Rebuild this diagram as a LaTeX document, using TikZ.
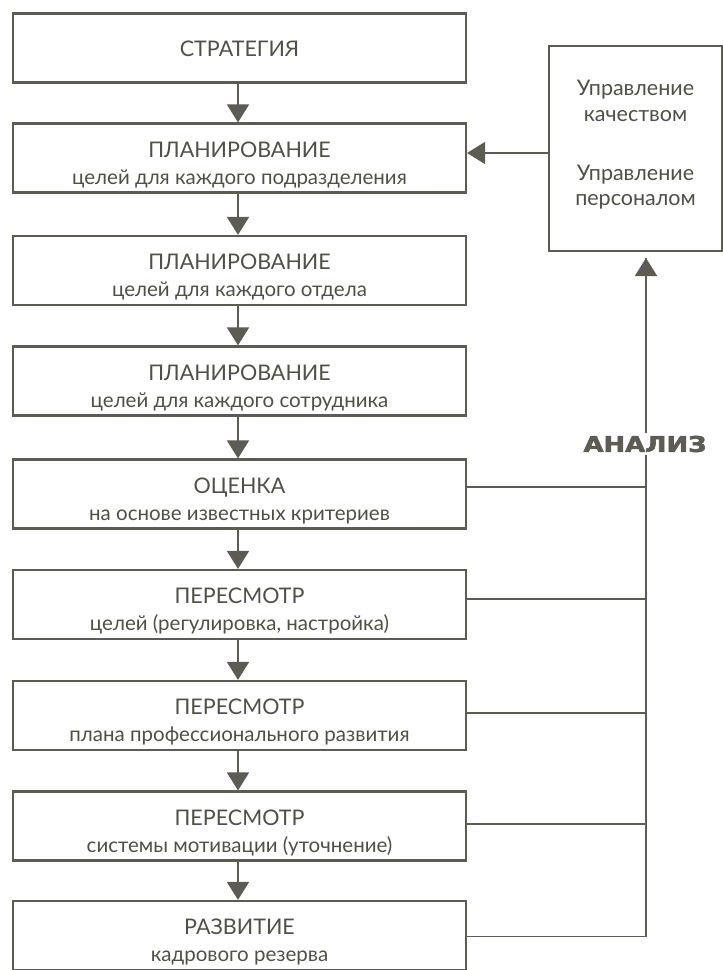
\documentclass[tikz,border=0pt]{standalone}
\usepackage{fontspec}
\usepackage{graphicx}
\setmainfont{Lato}
\newfontfamily\anfont[FakeBold=2.5]{DejaVu Sans Bold}
\usetikzlibrary{arrows.meta}
\definecolor{ink}{HTML}{5C5C54}
\definecolor{txt}{HTML}{505048}
\tikzset{
  box/.style={draw=ink, line width=2.2pt, minimum width=453pt, minimum height=69pt, inner sep=0pt, fill=white},
  rbox/.style={draw=ink, line width=2.2pt, minimum width=173pt, minimum height=205pt, inner sep=0pt, fill=white},
  ttl/.style={anchor=base, text=txt, font=\fontsize{21.5}{24}\selectfont, inner sep=0pt},
  sub/.style={anchor=base, text=txt, font=\fontsize{20.5}{24}\selectfont, inner sep=0pt},
  rtxt/.style={anchor=base, text=txt, font=\fontsize{21.5}{24}\selectfont, inner sep=0pt},
  flow/.style={draw=ink, line width=1.8pt, -{Triangle[width=22pt,length=18pt]}},
  link/.style={draw=ink, line width=1.6pt},
}
\begin{document}
\begin{tikzpicture}[x=1pt,y=-1pt]
\useasboundingbox[fill=white] (0,0) rectangle (723,970);
% left boxes
\node[box] (b1) at (239.5,48) {};
\node[box] (b2) at (239.5,158) {};
\node[box] (b3) at (239.5,270.5) {};
\node[box] (b4) at (239.5,381) {};
\node[box] (b5) at (239.5,494) {};
\node[box] (b6) at (239.5,604.5) {};
\node[box] (b7) at (239.5,715.5) {};
\node[box] (b8) at (239.5,826) {};
\node[box] (b9) at (239.5,935.5) {};
% right box
\node[rbox] (rb) at (635.5,148.5) {};
% texts
\node[ttl] (t1) at ([yshift=-8pt]b1.center) {СТРАТЕГИЯ};
\foreach \b/\t/\s in {b2/ПЛАНИРОВАНИЕ/целей для каждого подразделения,
                      b3/ПЛАНИРОВАНИЕ/целей для каждого отдела,
                      b4/ПЛАНИРОВАНИЕ/целей для каждого сотрудника,
                      b5/ОЦЕНКА/на основе известных критериев,
                      b6/ПЕРЕСМОТР/{целей (регулировка, настройка)},
                      b7/ПЕРЕСМОТР/плана профессионального развития,
                      b8/ПЕРЕСМОТР/системы мотивации (уточнение),
                      b9/РАЗВИТИЕ/кадрового резерва}{
  \node[ttl] (\b t) at ([yshift=-35pt]\b.north) {\t};
  \node[sub] (\b s) at ([yshift=-62pt]\b.north) {\s};
}
\node[rtxt] (r1) at ([yshift=-51pt]rb.north) {Управление};
\node[rtxt] (r2) at ([yshift=-77pt]rb.north) {качеством};
\node[rtxt] (r3) at ([yshift=-136pt]rb.north) {Управление};
\node[rtxt] (r4) at ([yshift=-161pt]rb.north) {персоналом};
% flow arrows
\foreach \a/\b in {b1/b2,b2/b3,b3/b4,b4/b5,b5/b6,b6/b7,b7/b8,b8/b9}{
  \draw[flow] ([xshift=-1.5pt]\a.south) -- ([xshift=-1.5pt]\b.north);
}
% feedback
\coordinate (vx) at (646,0);
\coordinate (tip) at (646,258);
\draw[link] ([yshift=-1pt]b9.east) -- ([yshift=-1pt]b9.east -| vx) -- (tip);
\draw[flow] ([yshift=-1pt]b9.east -| vx) -- (tip);
\foreach \b/\d in {b5/7,b6/5.5,b7/2.5,b8/2}{
  \draw[link] ([yshift=\d pt]\b.east) -- ([yshift=\d pt]\b.east -| vx);
}
\draw[flow] ([yshift=-4.5pt]rb.west) -- ([yshift=-4.5pt]rb.west -| b2.east);
\node[fill=white, inner sep=3pt, text=ink, font=\anfont\fontsize{21.5}{24}\selectfont] (an) at (645,444) {\scalebox{1.2}[1]{АНАЛИЗ}};
\end{tikzpicture}
\end{document}
